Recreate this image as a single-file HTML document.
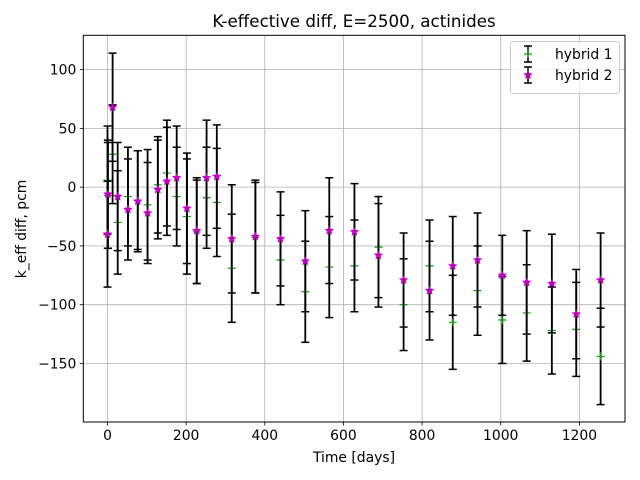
<!DOCTYPE html>
<html><head><meta charset="utf-8"><style>
body{margin:0;background:#fff}
svg{display:block;font-family:"DejaVu Sans","Liberation Sans",sans-serif}
</style></head><body>
<svg id="chart" width="640" height="480" viewBox="0 0 640 480">
<rect width="640" height="480" fill="#fff"/>
<text x="354" y="27" font-size="16.7" text-anchor="middle">K-effective diff, E=2500, actinides</text>
<g id="grid"></g><g id="marks"></g><g id="axes"></g>
<text x="354" y="462" font-size="13.9" text-anchor="middle">Time [days]</text>
<text transform="translate(26,229) rotate(-90)" font-size="13.9" text-anchor="middle">k_eff diff, pcm</text>
<g>
<rect x="510.5" y="41.5" width="109" height="52" rx="3" fill="#fff" fill-opacity="0.8" stroke="#ccc"/>
<g>
<line x1="528" y1="46" x2="528" y2="62" stroke="#000" stroke-width="1.5"/>
<line x1="524" y1="46" x2="532" y2="46" stroke="#000" stroke-width="1.5"/>
<line x1="524" y1="62" x2="532" y2="62" stroke="#000" stroke-width="1.5"/>
<path d="M524 54h8M528 50v8" stroke="#00aa00" stroke-width="1.2"/>
<text x="555" y="59" font-size="13.9">hybrid 1</text></g>
<g>
<line x1="528" y1="67" x2="528" y2="83" stroke="#000" stroke-width="1.5"/>
<line x1="524" y1="67" x2="532" y2="67" stroke="#000" stroke-width="1.5"/>
<line x1="524" y1="83" x2="532" y2="83" stroke="#000" stroke-width="1.5"/>
<polygon id="legstar" fill="#bf00bf" points=""/>
<text x="555" y="80" font-size="13.9">hybrid 2</text></g>
</g>
</svg>
<script>
const days=[0,1,13,26,52,77,102,128,151,176,202,227,252,278,316,376,440,503,564,628,689,753,819,878,941,1004,1066,1130,1192,1254];
const hybrid1=[6,-7,28,-30,-8,-11,-15,2,12,-8,-25,-38,-9,-13,-69,-43,-62,-89,-68,-67,-51,-100,-67,-115,-88,-113,-107,-122,-121,-144];
const hybrid1Err=[46,45,42,44,42,42,47,41,45,42,49,44,43,46,46,47,38,43,43,39,43,39,39,40,38,37,41,37,40,41];
const hybrid2=[-40,-6,68,-8,-19,-12,-22,-2,5,8,-18,-37,8,9,-44,-42,-44,-63,-37,-38,-58,-79,-88,-67,-62,-75,-81,-82,-108,-79];
const hybrid2Err=[45,46,46,46,43,43,43,42,46,44,47,45,49,44,46,48,40,43,45,41,44,40,42,42,40,34,44,42,38,40];
const xTicks=[0,200,400,600,800,1000,1200];
const yTicks=[100,50,0,-50,-100,-150];
const L=83.3,R=625,T=35.3,B=422;
const xMin=-61.5,xMax=1316,yMin=-199.8,yMax=129.2;
const X=v=>L+(v-xMin)/(xMax-xMin)*(R-L);
const Y=v=>B-(v-yMin)/(yMax-yMin)*(B-T);
const NS="http://www.w3.org/2000/svg";
function mk(tag,attrs,parent){const e=document.createElementNS(NS,tag);for(const k in attrs)e.setAttribute(k,attrs[k]);parent.appendChild(e);return e;}
const grid=document.getElementById('grid'),axes=document.getElementById('axes'),marks=document.getElementById('marks');
xTicks.forEach(t=>{const x=X(t);
 const g=mk('line',{x1:x,x2:x,y1:T,y2:B,stroke:'#b0b0b0','stroke-width':0.8},grid);
 
 
 mk('line',{x1:x,x2:x,y1:B,y2:B+3.5,stroke:'#000','stroke-width':0.8},axes);
 const tx=mk('text',{x:x,y:B+18,'font-size':13.9,'text-anchor':'middle'},axes);tx.textContent=t;
 
 
});
yTicks.forEach(t=>{const y=Y(t);
 const g=mk('line',{x1:L,x2:R,y1:y,y2:y,stroke:'#b0b0b0','stroke-width':0.8},grid);
 
 
 mk('line',{x1:L-3.5,x2:L,y1:y,y2:y,stroke:'#000','stroke-width':0.8},axes);
 const tx=mk('text',{x:L-7,y:y+5,'font-size':13.9,'text-anchor':'end'},axes);tx.textContent=String(t).replace('-','\u2212');
 
 
});
const fr=mk('rect',{x:L,y:T,width:R-L,height:B-T,fill:'none',stroke:'#000','stroke-width':1},axes);


function star(cx,cy,r){let p=[];for(let i=0;i<10;i++){const a=-Math.PI/2+i*Math.PI/5;const rr=i%2?r*0.45:r;p.push((cx+rr*Math.cos(a)).toFixed(2)+','+(cy+rr*Math.sin(a)).toFixed(2));}return p.join(' ');}
document.getElementById('legstar').setAttribute('points',star(528,75,5));
function errbar(x,v,e,name){const g=mk('g',{},marks);
 
 
 const y1=Y(v+e),y2=Y(v-e);
 mk('line',{x1:x,x2:x,y1:y1,y2:y2,stroke:'#000','stroke-width':1.8},g);
 mk('line',{x1:x-4,x2:x+4,y1:y1,y2:y1,stroke:'#000','stroke-width':1.5},g);
 mk('line',{x1:x-4,x2:x+4,y1:y2,y2:y2,stroke:'#000','stroke-width':1.5},g);
}
days.forEach((d,i)=>errbar(X(d),hybrid1[i],hybrid1Err[i],'errorbar-hybrid-1'));
days.forEach((d,i)=>{const x=X(d),y=Y(hybrid1[i]);
 const p=mk('path',{d:`M${x-4} ${y}h8M${x} ${y-4}v8`,stroke:'#00aa00','stroke-width':1.2},marks);
 
 
});
days.forEach((d,i)=>errbar(X(d),hybrid2[i],hybrid2Err[i],'errorbar-hybrid-2'));
days.forEach((d,i)=>{
 const p=mk('polygon',{points:star(X(d),Y(hybrid2[i]),5),fill:'#bf00bf'},marks);
 
 
});
</script>
</body></html>
